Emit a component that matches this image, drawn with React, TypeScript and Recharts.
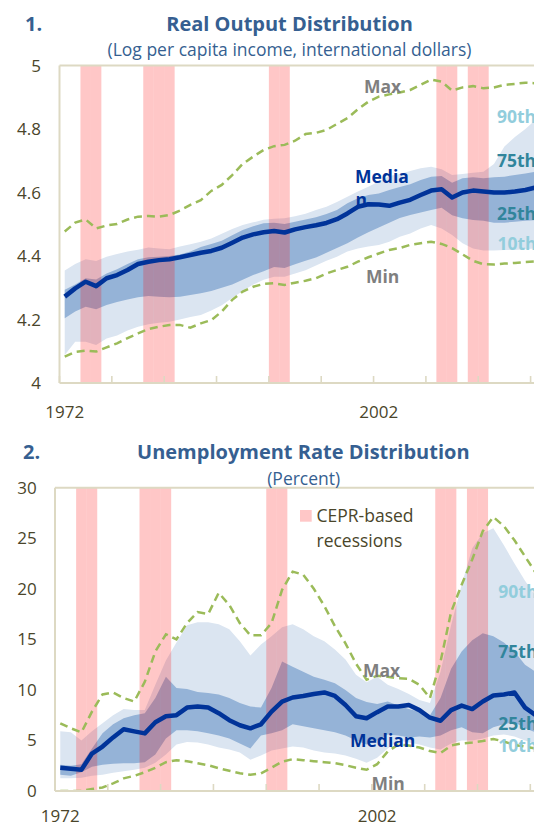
import React from 'react';
import { ComposedChart, Area, Bar, Line, XAxis, YAxis, ReferenceLine } from 'recharts';

// ---------- categories ----------
const years = [
  '1972','1973','1974','1975','1976','1977','1978','1979','1980','1981',
  '1982','1983','1984','1985','1986','1987','1988','1989','1990','1991',
  '1992','1993','1994','1995','1996','1997','1998','1999','2000','2001',
  '2002','2003','2004','2005','2006','2007','2008','2009','2010','2011',
  '2012','2013','2014','2015','2016','2017','2018','2019',
];
const recessionYears = ['1974','1975','1980','1981','1982','1992','1993','2008','2009','2011','2012'];

// ---------- panel 1: real output (log per capita income) ----------
const outMedian = [
  4.272,4.298,4.319,4.305,4.330,4.340,4.356,4.375,4.382,4.387,
  4.390,4.396,4.403,4.410,4.416,4.426,4.442,4.458,4.468,4.475,
  4.479,4.474,4.484,4.491,4.497,4.504,4.516,4.534,4.555,4.563,
  4.562,4.558,4.568,4.577,4.592,4.606,4.610,4.584,4.600,4.606,
  4.603,4.600,4.600,4.603,4.608,4.616,4.622,4.628,
];
const outP75 = [
  4.294,4.310,4.330,4.326,4.345,4.358,4.375,4.390,4.396,4.398,
  4.400,4.405,4.414,4.428,4.438,4.448,4.465,4.482,4.494,4.503,
  4.505,4.501,4.508,4.515,4.522,4.532,4.545,4.566,4.582,4.592,
  4.597,4.608,4.617,4.626,4.639,4.650,4.652,4.631,4.645,4.648,
  4.645,4.648,4.650,4.655,4.660,4.666,4.672,4.678,
];
const outP25 = [
  4.204,4.225,4.240,4.232,4.246,4.255,4.263,4.270,4.274,4.272,
  4.270,4.272,4.277,4.283,4.290,4.300,4.310,4.325,4.340,4.352,
  4.365,4.362,4.374,4.385,4.395,4.410,4.425,4.440,4.458,4.475,
  4.490,4.505,4.520,4.529,4.537,4.545,4.552,4.528,4.519,4.513,
  4.511,4.505,4.505,4.508,4.511,4.513,4.515,4.518,
];
const outP90 = [
  4.354,4.375,4.390,4.384,4.398,4.406,4.414,4.420,4.427,4.424,
  4.421,4.430,4.437,4.445,4.455,4.470,4.485,4.498,4.506,4.514,
  4.517,4.519,4.525,4.533,4.545,4.555,4.570,4.587,4.603,4.618,
  4.635,4.652,4.658,4.668,4.676,4.681,4.673,4.655,4.658,4.662,
  4.665,4.690,4.745,4.775,4.800,4.830,4.850,4.860,
];
const outP10 = [
  4.088,4.130,4.130,4.120,4.140,4.150,4.165,4.177,4.185,4.190,
  4.193,4.200,4.208,4.214,4.228,4.245,4.268,4.290,4.310,4.325,
  4.335,4.335,4.345,4.355,4.370,4.385,4.398,4.414,4.424,4.430,
  4.435,4.445,4.461,4.471,4.487,4.498,4.487,4.466,4.440,4.424,
  4.417,4.417,4.419,4.419,4.421,4.424,4.425,4.427,
];
const outMax = [
  4.477,4.505,4.515,4.487,4.496,4.501,4.515,4.524,4.526,4.524,
  4.529,4.543,4.561,4.576,4.605,4.624,4.655,4.690,4.713,4.734,
  4.746,4.750,4.763,4.784,4.788,4.797,4.816,4.834,4.862,4.886,
  4.902,4.909,4.915,4.923,4.939,4.956,4.949,4.921,4.931,4.935,
  4.928,4.931,4.939,4.942,4.946,4.944,4.944,4.945,
];
const outMin = [
  4.083,4.098,4.102,4.099,4.112,4.125,4.141,4.156,4.170,4.177,
  4.183,4.183,4.174,4.188,4.198,4.225,4.262,4.288,4.303,4.312,
  4.314,4.309,4.316,4.322,4.330,4.345,4.356,4.366,4.382,4.396,
  4.408,4.419,4.425,4.435,4.440,4.445,4.438,4.425,4.405,4.385,
  4.374,4.373,4.376,4.378,4.381,4.383,4.385,4.387,
];
const outTicks = [4, 4.2, 4.4, 4.6, 4.8, 5];

// ---------- panel 2: unemployment rate (percent) ----------
const unMedian = [
  2.3,2.2,2.1,3.7,4.4,5.3,6.1,5.9,5.7,6.8,
  7.4,7.5,8.25,8.35,8.25,7.7,7.0,6.5,6.2,6.6,
  7.85,8.85,9.25,9.4,9.6,9.75,9.4,8.5,7.4,7.2,
  7.8,8.35,8.35,8.5,8.0,7.25,6.95,8.0,8.45,8.1,
  8.85,9.45,9.55,9.75,8.25,7.5,7.2,6.9,
];
const unP75 = [
  2.6,2.5,2.65,4.2,5.7,6.6,7.2,7.5,7.7,9.2,
  11.3,10.2,10.1,9.8,9.7,9.55,9.2,8.7,8.35,8.25,
  10.2,12.8,12.3,11.8,11.3,11.0,10.65,10.0,9.2,8.8,
  8.6,8.85,8.45,8.1,7.85,7.5,9.2,12.1,13.8,14.9,
  15.6,15.3,14.7,13.8,12.5,11.8,11.0,10.3,
];
const unP25 = [
  1.6,1.5,1.85,2.4,2.6,2.7,2.75,2.75,2.85,3.6,
  5.2,6.0,6.0,5.9,5.7,5.5,5.2,4.7,4.2,5.5,
  5.7,6.0,6.6,6.4,6.2,6.0,5.8,5.5,5.0,4.6,
  5.0,5.6,5.5,5.3,5.4,5.3,5.5,6.0,6.3,5.8,
  5.7,6.3,6.6,6.8,6.2,5.8,5.4,5.1,
];
const unP90 = [
  5.9,5.8,5.0,5.9,6.7,7.5,8.1,8.0,8.0,10.5,
  12.9,14.7,16.4,16.7,16.7,16.5,16.0,14.8,13.4,14.5,
  15.3,16.2,16.5,16.0,15.3,14.8,14.0,13.0,11.5,10.75,
  11.3,10.5,10.1,9.6,9.0,8.7,11.8,16.4,20.4,24.0,
  25.5,26.0,24.3,22.5,20.8,19.3,17.5,16.0,
];
const unP10 = [
  1.25,1.25,1.3,1.5,1.6,1.8,1.95,2.1,2.3,2.8,
  3.6,4.6,4.85,4.8,4.6,4.3,4.1,3.8,3.1,3.5,
  4.0,4.2,4.4,4.3,4.0,3.8,3.7,3.5,3.2,2.8,
  3.3,4.2,5.0,4.8,4.6,4.3,4.1,4.7,5.0,5.0,
  5.2,5.5,5.6,5.4,5.0,4.7,4.4,4.2,
];
const unMax = [
  6.7,6.2,5.8,7.85,9.55,9.75,9.2,8.85,10.8,13.8,
  15.5,15.0,16.6,17.7,17.5,19.6,18.4,16.6,15.4,15.4,
  16.6,19.9,21.7,21.4,20.0,18.3,16.3,14.6,12.6,11.0,
  11.4,11.3,11.15,11.1,10.5,9.2,12.8,17.7,20.4,22.9,
  25.7,27.1,26.2,24.8,23.2,21.6,20.0,18.5,
];
const unMin = [
  0,0,0,0.2,0.35,0.75,1.25,1.5,1.85,2.3,
  2.85,3.05,2.95,2.75,2.55,2.25,2.0,1.75,1.6,1.75,
  2.3,2.9,3.15,3.05,2.95,2.85,2.75,2.55,2.3,2.1,
  2.65,3.9,4.6,4.5,4.3,3.95,3.75,4.5,4.7,4.8,
  4.95,5.15,4.9,4.55,4.4,4.2,4.0,3.8,
];
const unTicks = [0, 5, 10, 15, 20, 25, 30];

// ---------- styling ----------
const FONT = '"Open Sans", "Noto Sans", sans-serif';
const AXIS = '#ddd9c3';
const TICK = '#4a452a';
const TITLE = '#365f91';
const LIGHT = '#dbe5f1';
const DARK = '#95b3d7';
const MEDIAN = '#003399';
const GREEN = '#9bbb59';
const REC = '#ff0000';
const REC_OPACITY = 0.22;
const GRAY = '#7f7f7f';
const PALE = '#92cddc';
const TEAL = '#31859c';

const CHART_W = 562;

function buildRows(
  yMax: number, med: number[], p10: number[], p25: number[], p75: number[], p90: number[], mx: number[], mn: number[],
) {
  return years.map((y, i) => ({
    year: y,
    rec: recessionYears.includes(y) ? yMax : null,
    med: med[i],
    outer: [p10[i], p90[i]],
    inner: [p25[i], p75[i]],
    max: mx[i],
    min: mn[i],
  }));
}

const makeTick = (half: number, labelDy: number) => (props: any) => {
  const { x, y, payload } = props;
  const i = years.indexOf(String(payload.value));
  return (
    <g>
      {i % 5 === 0 && (
        <line x1={x - half} x2={x - half} y1={y} y2={y - 7} stroke={AXIS} strokeWidth={1.6} />
      )}
      {i % 30 === 0 && (
        <text x={x} y={y + labelDy} textAnchor="middle" fill={TICK} fontSize={17} fontFamily={FONT}>
          {payload.value}
        </text>
      )}
    </g>
  );
};

interface PanelProps {
  rows: any[];
  height: number;
  top: number;
  xAxisH: number;
  yW: number;
  domain: [number, number];
  ticks: number[];
  tickMargin: number;
  labelDy: number;
}

function Panel({ rows, height, top, xAxisH, yW, domain, ticks, tickMargin, labelDy }: PanelProps) {
  const bw = (CHART_W - yW) / years.length;
  return (
    <ComposedChart
      width={CHART_W}
      height={height}
      data={rows}
      margin={{ top, right: 0, bottom: 0, left: 0 }}
      barCategoryGap={0}
      barGap={0}
    >
      <XAxis
        dataKey="year"
        interval={0}
        height={xAxisH}
        tickLine={false}
        tickSize={0}
        tickMargin={0}
        axisLine={{ stroke: AXIS, strokeWidth: 2 }}
        tick={makeTick(bw / 2, labelDy)}
      />
      <YAxis
        type="number"
        domain={domain}
        ticks={ticks}
        allowDataOverflow
        width={yW}
        tickLine={false}
        tickSize={0}
        tickMargin={tickMargin}
        axisLine={{ stroke: AXIS, strokeWidth: 2 }}
        tick={{ fill: TICK, fontSize: 17, fontFamily: FONT }}
      />
      <ReferenceLine y={domain[1]} stroke={AXIS} strokeWidth={2} />
      <Area dataKey="outer" type="linear" fill={LIGHT} fillOpacity={1} stroke="none" isAnimationActive={false} activeDot={false} />
      <Area dataKey="inner" type="linear" fill={DARK} fillOpacity={1} stroke="none" isAnimationActive={false} activeDot={false} />
      <Bar dataKey="rec" fill={REC} fillOpacity={REC_OPACITY} barSize={bw - 0.01} isAnimationActive={false} />
      <Line dataKey="max" type="linear" stroke={GREEN} strokeWidth={2.5} strokeDasharray="8 5" dot={false} activeDot={false} isAnimationActive={false} />
      <Line dataKey="min" type="linear" stroke={GREEN} strokeWidth={2.5} strokeDasharray="8 5" dot={false} activeDot={false} isAnimationActive={false} />
      <Line dataKey="med" type="linear" stroke={MEDIAN} strokeWidth={4.5} strokeLinejoin="round" dot={false} activeDot={false} isAnimationActive={false} />
    </ComposedChart>
  );
}

const rows1 = buildRows(5, outMedian, outP10, outP25, outP75, outP90, outMax, outMin);
const rows2 = buildRows(30, unMedian, unP10, unP25, unP75, unP90, unMax, unMin);

function Label({ x, y, text, color, bold = true, size = 17.5, anchor = 'start' }: any) {
  return (
    <text x={x} y={y} fill={color} fontSize={size} fontWeight={bold ? 700 : 400} fontFamily={FONT} textAnchor={anchor}>
      {text}
    </text>
  );
}

export default function App() {
  return (
    <div style={{ position: 'fixed', left: 0, top: 0, width: 534, height: 826, overflow: 'hidden', background: '#fff' }}>
      <div style={{ position: 'absolute', left: 0, top: 0 }}>
        <Panel rows={rows1} height={440} top={65.5} xAxisH={57} yW={59.5} domain={[4, 5]} ticks={outTicks} tickMargin={18.5} labelDy={35} />
      </div>
      <div style={{ position: 'absolute', left: 0, top: 420 }}>
        <Panel rows={rows2} height={406} top={67.7} xAxisH={35} yW={55} domain={[0, 30]} ticks={unTicks} tickMargin={18.2} labelDy={30.5} />
      </div>
      <svg width={534} height={826} style={{ position: 'absolute', left: 0, top: 0, pointerEvents: 'none' }}>
        {/* panel 1 titles */}
        <Label x={25} y={30.5} text="1." color={TITLE} size={20} />
        <Label x={289.5} y={30.5} text="Real Output Distribution" color={TITLE} size={20} anchor="middle" />
        <Label x={289.5} y={56} text="(Log per capita income, international dollars)" color={TITLE} size={17.5} bold={false} anchor="middle" />
        {/* panel 1 series labels */}
        <Label x={364} y={93.3} text="Max" color={GRAY} />
        <Label x={497} y={123} text="90th" color={PALE} />
        <Label x={355} y={183} text="Media" color={MEDIAN} />
        <Label x={355.5} y={206} text="n" color={MEDIAN} />
        <Label x={497} y={166.5} text="75th" color={TEAL} />
        <Label x={497} y={220} text="25th" color={TEAL} />
        <Label x={497.5} y={250} text="10th" color={PALE} />
        <Label x={366} y={283} text="Min" color={GRAY} />
        {/* panel 2 titles */}
        <Label x={23} y={459} text="2." color={TITLE} size={20} />
        <Label x={303.3} y={459} text="Unemployment Rate Distribution" color={TITLE} size={20} anchor="middle" />
        <Label x={303.7} y={484.5} text="(Percent)" color={TITLE} size={17.5} bold={false} anchor="middle" />
        {/* legend */}
        <rect x={300} y={510} width={11.7} height={11.7} fill={REC} fillOpacity={REC_OPACITY} />
        <Label x={316.5} y={521.7} text="CEPR-based" color={TICK} bold={false} />
        <Label x={316.5} y={546.7} text="recessions" color={TICK} bold={false} />
        {/* panel 2 series labels */}
        <Label x={498.3} y={598} text="90th" color={PALE} />
        <Label x={363} y={677} text="Max" color={GRAY} />
        <Label x={498.3} y={658} text="75th" color={TEAL} />
        <Label x={350} y={747} text="Median" color={MEDIAN} />
        <Label x={498.3} y={730} text="25th" color={TEAL} />
        <Label x={498.3} y={752} text="10th" color={PALE} />
        <Label x={371.5} y={790} text="Min" color={GRAY} />
      </svg>
    </div>
  );
}
